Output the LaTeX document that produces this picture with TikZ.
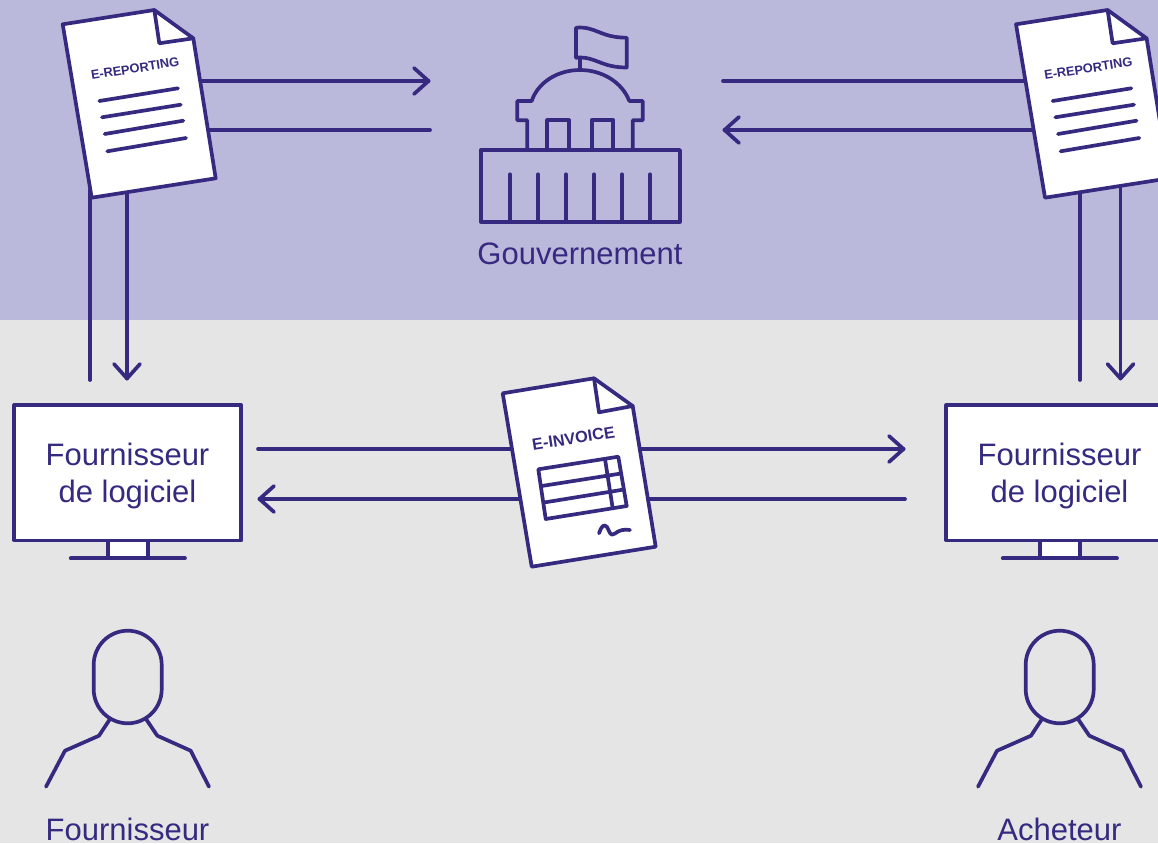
\documentclass[tikz,border=0pt]{standalone}
\usepackage{fontspec}
\setmainfont{Liberation Sans}
\usetikzlibrary{arrows.meta}
\definecolor{ink}{HTML}{352A80}
\definecolor{topbg}{HTML}{BAB9DC}
\definecolor{lowbg}{HTML}{E5E5E6}
\pgfdeclarearrow{
  name=Chev,
  setup code={\pgfarrowssettipend{2.5pt}\pgfarrowssetlineend{0pt}},
  drawing code={\pgfsetdash{}{0pt}\pgfsetroundcap\pgfsetroundjoin
    \pgfpathmoveto{\pgfpoint{-14.5pt}{13pt}}\pgfpathlineto{\pgfpointorigin}\pgfpathlineto{\pgfpoint{-14.5pt}{-13pt}}\pgfusepathqstroke}
}
\tikzset{
  line/.style={draw=ink,line width=3.7pt,line join=round,line cap=round},
  conn/.style={line},
  head/.style={line,-Chev},
  sheet/.style={line,fill=white},
  caption/.style={text=ink,font=\fontsize{31}{37}\selectfont,inner sep=0pt,align=center},
  tag/.style={text=ink,font=\fontsize{12.8}{16}\selectfont\bfseries,inner sep=0pt,rotate=9},
  screen/.style={line,fill=white,rectangle,inner sep=0pt,minimum width=227pt,minimum height=135.3pt}
}
\newcommand{\reportdoc}[2]{%
  \begin{scope}[shift={(#1,0)}]
    \draw[sheet] (62.7,24.3) -- (154.3,10) -- (193.3,38.3) -- (215.7,178.3) -- (91.7,197.7) -- cycle;
    \draw[line] (154.3,10) -- (159.3,43.3) -- (193.3,38.3);
    \node[tag] (#2) at (135,68.5) {E-REPORTING};
    \draw[line] (99.3,101) -- (178,88.3);
    \draw[line] (102,117.3) -- (180.7,104.7);
    \draw[line] (104.7,134) -- (183.3,120.7);
    \draw[line] (107.3,151.3) -- (186,138);
  \end{scope}}
\newcommand{\personfig}[1]{%
  \begin{scope}[shift={(#1,0)}]
    \draw[line] (110,719) -- (99,735.7) -- (65,750.7) -- (46,786.7);
    \draw[line] (146,719) -- (157.3,735.7) -- (190.7,750.7) -- (209,786.7);
    \draw[line] (93.7,664.7) arc[start angle=180,end angle=0,x radius=34,y radius=-34]
      -- (161.7,689.3) arc[start angle=0,end angle=-180,x radius=34,y radius=-34] -- cycle;
  \end{scope}}
\newcommand{\standfig}[1]{%
  \begin{scope}[shift={(#1,0)}]
    \draw[sheet] (107.7,540.3) rectangle (147.7,558.3);
    \draw[line] (70.7,558.3) -- (185,558.3);
  \end{scope}}
\begin{document}
\begin{tikzpicture}[x=1pt,y=-1pt]
\useasboundingbox (0,0) rectangle (1158,843);
\clip (0,0) rectangle (1158,843);
\fill[topbg] (0,0) rectangle (1158,320);
\fill[lowbg] (0,320) rectangle (1158,843);

% connector end points
\coordinate (tlA) at (195,81);   \coordinate (tlB) at (431,81);
\coordinate (tlC) at (205,130);  \coordinate (tlD) at (430,130);
\coordinate (trA) at (723,81);   \coordinate (trB) at (1035,81);
\coordinate (trC) at (1040,130); \coordinate (trD) at (722,130);
\coordinate (vlA) at (90,190);   \coordinate (vlB) at (90,380);
\coordinate (vlC) at (127,190);  \coordinate (vlD) at (127,381);
\coordinate (vrA) at (1080,190); \coordinate (vrB) at (1080,380);
\coordinate (vrC) at (1120.5,185); \coordinate (vrD) at (1120.5,381);
\coordinate (mdA) at (258,449);  \coordinate (mdB) at (906,449);
\coordinate (mdC) at (905,499);  \coordinate (mdD) at (257,499);

\draw[head] (tlA) -- (tlB);
\draw[conn] (tlC) -- (tlD);
\draw[conn] (trA) -- (trB);
\draw[head] (trC) -- (trD);
\draw[conn] (vlA) -- (vlB);
\draw[head] (vlC) -- (vlD);
\draw[conn] (vrA) -- (vrB);
\draw[head] (vrC) -- (vrD);
\draw[head] (mdA) -- (mdB);
\draw[head] (mdC) -- (mdD);

\reportdoc{0}{repL}
\reportdoc{953.3}{repR}

% government building
\draw[line] (580,70) -- (580,57.7);
\draw[line] (576,57.7) -- (576,27.7) .. controls (596,26) and (600,37.7) .. (626.7,37.7)
  -- (626.7,67.5) .. controls (600,67.5) and (596,56) .. (576,57.7) -- cycle;
\draw[line] (527.3,150) -- (527.3,120.3) -- (517.3,120.3) -- (517.3,101) -- (531.7,101)
  .. controls (538,82) and (558,70) .. (580,70) .. controls (602,70) and (622,82) .. (629.3,101)
  -- (642.7,101) -- (642.7,120.3) -- (632.7,120.3) -- (632.7,150);
\draw[line] (547.3,150) -- (547.3,120.3) -- (569,120.3) -- (569,150);
\draw[line] (591.7,150) -- (591.7,120.3) -- (613.3,120.3) -- (613.3,150);
\draw[line] (480.7,150) rectangle (680,221.7);
\foreach \cx in {510,538,566,594,622,650} \draw[line] (\cx,174.3) -- (\cx,221.7);
\node[caption,anchor=base] (gov) at (580,264) {Gouvernement};

% e-invoice
\draw[sheet] (502.7,393.3) -- (594,378.3) -- (632.7,406) -- (655.7,546.7) -- (531.7,566.7) -- cycle;
\draw[line] (594,378.3) -- (599,412.3) -- (632.7,406);
\node[tag,font=\fontsize{16.3}{18}\selectfont\bfseries] (inv) at (573.5,438.3) {E-INVOICE};
\draw[line] (538.3,469.3) -- (618.3,456.7) -- (626.7,506) -- (545.7,519) -- cycle;
\draw[line] (541.7,486) -- (621,473.5);
\draw[line] (544,502.5) -- (624,489.5);
\draw[line] (605,459) -- (612.7,508.3);
\draw[line] (599,533.3) .. controls (601,527) and (604,523) .. (607,527)
  .. controls (610,532) and (610,537) .. (615,533.5) .. controls (619,530) and (625,529) .. (630,530);

% monitors
\standfig{0}
\standfig{932}
\node[screen] (monL) at (127.8,472.7) {};
\node[screen] (monR) at (1059.8,472.7) {};
\node[caption,anchor=base] (monLa) at (127.5,465) {Fournisseur};
\node[caption,anchor=base] (monLb) at (127.5,502) {de logiciel};
\node[caption,anchor=base] (monRa) at (1059.5,465) {Fournisseur};
\node[caption,anchor=base] (monRb) at (1059.5,502) {de logiciel};

% people
\personfig{0}
\personfig{932}
\node[caption,anchor=base] (perL) at (127.5,840) {Fournisseur};
\node[caption,anchor=base] (perR) at (1059.5,840) {Acheteur};
\end{tikzpicture}
\end{document}
